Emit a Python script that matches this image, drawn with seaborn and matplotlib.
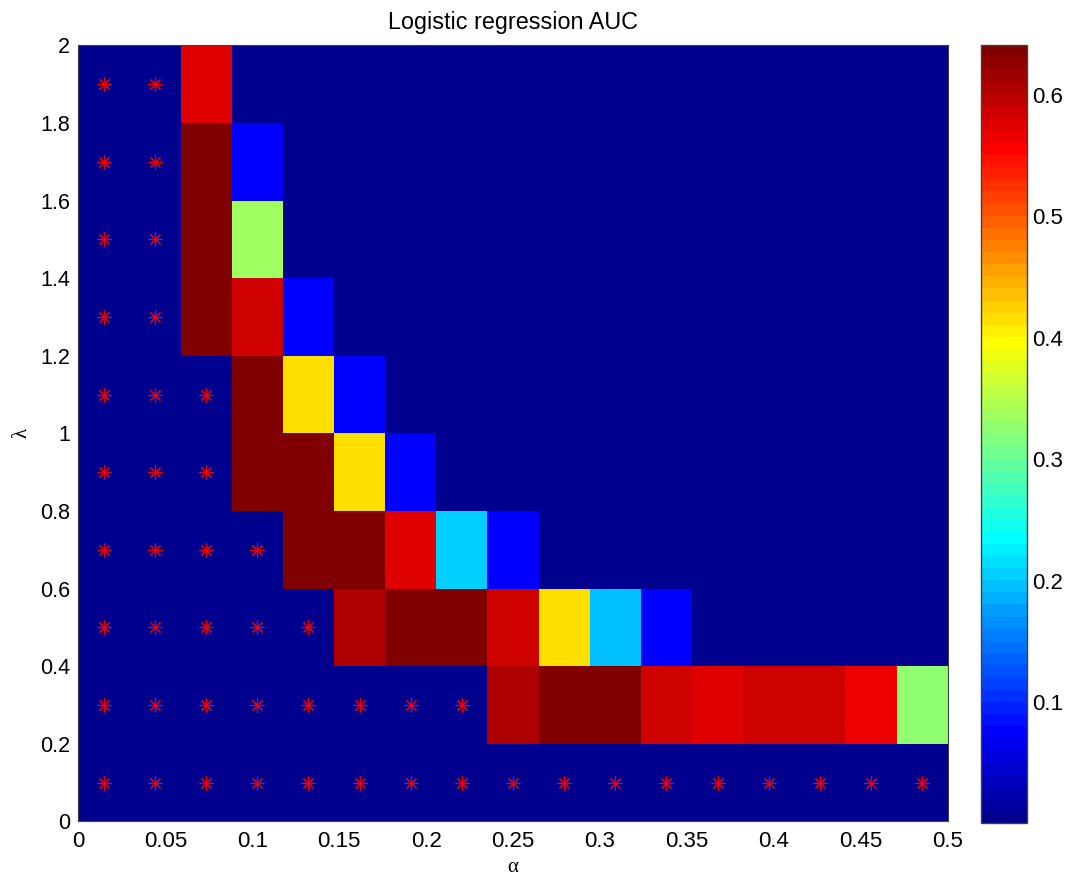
import numpy as np
import pandas as pd
import matplotlib
matplotlib.use("Agg")
import matplotlib.pyplot as plt
import seaborn as sns
from matplotlib.colors import ListedColormap

# grid of the search (cell centres)
alphas = [0.0147, 0.0441, 0.0735, 0.1029, 0.1324, 0.1618, 0.1912, 0.2206, 0.2500,
          0.2794, 0.3088, 0.3382, 0.3676, 0.3971, 0.4265, 0.4559, 0.4853]
lambdas = [0.1, 0.3, 0.5, 0.7, 0.9, 1.1, 1.3, 1.5, 1.7, 1.9]

# AUC per lambda row (bottom row first), one value per alpha
lo = 0.002
auc_rows = [
    [lo, lo, lo, lo, lo, lo, lo, lo, lo, lo, lo, lo, lo, lo, lo, lo, lo],
    [lo, lo, lo, lo, lo, lo, lo, lo, 0.606, 0.638, 0.638, 0.586, 0.576, 0.586, 0.586, 0.566, 0.326],
    [lo, lo, lo, lo, lo, 0.606, 0.638, 0.638, 0.586, 0.416, 0.196, 0.075, lo, lo, lo, lo, lo],
    [lo, lo, lo, lo, 0.638, 0.638, 0.576, 0.206, 0.075, lo, lo, lo, lo, lo, lo, lo, lo],
    [lo, lo, lo, 0.638, 0.638, 0.416, 0.075, lo, lo, lo, lo, lo, lo, lo, lo, lo, lo],
    [lo, lo, lo, 0.638, 0.416, 0.075, lo, lo, lo, lo, lo, lo, lo, lo, lo, lo, lo],
    [lo, lo, 0.638, 0.586, 0.075, lo, lo, lo, lo, lo, lo, lo, lo, lo, lo, lo, lo],
    [lo, lo, 0.638, 0.336, lo, lo, lo, lo, lo, lo, lo, lo, lo, lo, lo, lo, lo],
    [lo, lo, 0.638, 0.075, lo, lo, lo, lo, lo, lo, lo, lo, lo, lo, lo, lo, lo],
    [lo, lo, 0.576, lo, lo, lo, lo, lo, lo, lo, lo, lo, lo, lo, lo, lo, lo],
]
# number of starred cells (from the left) in each lambda row
star_count = [17, 8, 5, 4, 3, 3, 2, 2, 2, 2]

x_ticks = [0, 0.05, 0.1, 0.15, 0.2, 0.25, 0.3, 0.35, 0.4, 0.45, 0.5]
x_labels = ["0", "0.05", "0.1", "0.15", "0.2", "0.25", "0.3", "0.35", "0.4", "0.45", "0.5"]
y_ticks = [0, 0.2, 0.4, 0.6, 0.8, 1.0, 1.2, 1.4, 1.6, 1.8, 2.0]
y_labels = ["0", "0.2", "0.4", "0.6", "0.8", "1", "1.2", "1.4", "1.6", "1.8", "2"]
cb_ticks = [0.1, 0.2, 0.3, 0.4, 0.5, 0.6]
cb_labels = ["0.1", "0.2", "0.3", "0.4", "0.5", "0.6"]


def matlab_jet(n=64):
    m = n // 4
    u = np.concatenate([np.arange(1, m + 1) / m, np.ones(m - 1), np.arange(m, 0, -1) / m])
    g = m // 2 + np.arange(len(u))
    r = g + m
    b = g - m
    rgb = np.zeros((n, 3))
    rgb[g[g < n], 1] = u[g < n]
    rgb[r[r < n], 0] = u[r < n]
    rgb[b[b >= 0], 2] = u[b >= 0]
    return ListedColormap(rgb)


sns.set_style("white")
plt.rcParams["font.family"] = ["Liberation Sans", "DejaVu Sans"]
plt.rcParams["text.color"] = "black"
plt.rcParams["axes.labelcolor"] = "black"
plt.rcParams["xtick.color"] = "black"
plt.rcParams["ytick.color"] = "black"

auc = pd.DataFrame(auc_rows, index=lambdas, columns=alphas)

fig = plt.figure(figsize=(10.66, 8.77), dpi=100)
ax = fig.add_axes([0.0735, 0.0635, 0.8156, 0.8848])
cax = fig.add_axes([0.9206, 0.0613, 0.0426, 0.887])

sns.heatmap(auc, ax=ax, cbar_ax=cax, cmap=matlab_jet(64), vmin=0.0004, vmax=0.6406,
            xticklabels=False, yticklabels=False)
ax.invert_yaxis()

# stars on the cell centres
sx, sy = [], []
for r, n in enumerate(star_count):
    for c in range(n):
        sx.append(c + 0.5)
        sy.append(r + 0.5)
ax.plot(sx, sy, linestyle="none", marker=(8, 2, 0), color="#ee0000",
        markersize=10, markeredgewidth=0.8)

# map real alpha / lambda values onto the cell grid
a_step = (alphas[-1] - alphas[0]) / (len(alphas) - 1)
l_step = (lambdas[-1] - lambdas[0]) / (len(lambdas) - 1)
a_off = alphas[0] - a_step / 2
l_off = lambdas[0] - l_step / 2
ax.set_xticks([round((t - a_off) / a_step, 2) for t in x_ticks])
ax.set_xticklabels(x_labels, fontsize=16, rotation=0)
ax.set_yticks([round((t - l_off) / l_step, 2) for t in y_ticks])
ax.set_yticklabels(y_labels, fontsize=15.5, rotation=0)
ax.tick_params(axis="both", length=0)
ax.tick_params(axis="x", pad=7)
ax.tick_params(axis="y", pad=6)
ax.set_xlim(0, len(alphas))
ax.set_ylim(0, len(lambdas))
for s in ax.spines.values():
    s.set_visible(True)
    s.set_linewidth(0.8)
    s.set_color("#404040")

ax.set_title("Logistic regression AUC", fontsize=16.8, pad=12)
ax.set_xlabel("α", fontsize=15, family="Liberation Serif")
ax.xaxis.label.set_va("baseline")
ax.xaxis.set_label_coords(0.5, -0.065)
ax.set_ylabel("λ", fontsize=15, family="Liberation Serif", labelpad=6)

cb = ax.collections[0].colorbar
cb.set_ticks(cb_ticks)
cb.set_ticklabels(cb_labels)
cb.outline.set_linewidth(1.0)
cb.outline.set_edgecolor("#404040")
cax.yaxis.set_tick_params(which="major", direction="in", length=6, width=1,
                          color="black", left=True, right=True,
                          labelleft=False, labelright=True, labelsize=16, pad=4)

fig.savefig("out.png", dpi=100)
